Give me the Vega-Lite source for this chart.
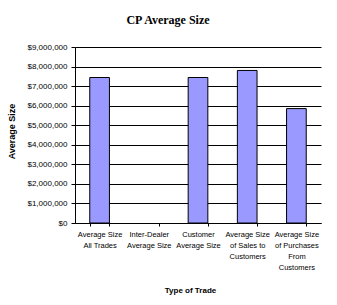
{
  "$schema": "https://vega.github.io/schema/vega-lite/v6.json",
  "width": 246,
  "height": 176,
  "autosize": "none",
  "padding": {"left": 75, "top": 47, "right": 16, "bottom": 82},
  "background": "white",
  "title": {
    "text": "CP Average Size",
    "font": "Liberation Serif",
    "fontSize": 12,
    "fontWeight": "bold",
    "color": "black",
    "anchor": "middle",
    "dx": -30,
    "offset": 16
  },
  "data": {
    "values": [
      {"trade": "Average Size|All Trades", "size": 7440000},
      {"trade": "Inter-Dealer|Average Size", "size": null},
      {"trade": "Customer|Average Size", "size": 7440000},
      {"trade": "Average Size|of Sales to|Customers", "size": 7800000},
      {"trade": "Average Size|of Purchases|From|Customers", "size": 5850000}
    ]
  },
  "mark": {"type": "bar", "color": "#9999FF", "stroke": "black", "strokeWidth": 1},
  "encoding": {
    "x": {
      "field": "trade",
      "type": "nominal",
      "scale": {
        "domain": [
          "Average Size|All Trades",
          "Inter-Dealer|Average Size",
          "Customer|Average Size",
          "Average Size|of Sales to|Customers",
          "Average Size|of Purchases|From|Customers"
        ],
        "paddingInner": 0.6,
        "paddingOuter": 0.3
      },
      "axis": {
        "title": "Type of Trade",
        "titleFont": "Liberation Sans",
        "titleFontSize": 8,
        "titleFontWeight": "bold",
        "titleColor": "black",
        "titlePadding": 16,
        "titleX": 115,
        "labelExpr": "split(datum.label, '|')",
        "labelAngle": 0,
        "labelFont": "Liberation Sans",
        "labelFontSize": 7.5,
        "labelColor": "black",
        "labelLineHeight": 11,
        "labelPadding": 4,
        "labelLimit": 0,
        "tickBand": "extent",
        "tickSize": 3,
        "tickColor": "black",
        "domainColor": "black",
        "grid": false
      }
    },
    "y": {
      "field": "size",
      "type": "quantitative",
      "scale": {"domain": [0, 9000000], "nice": false},
      "axis": {
        "title": "Average Size",
        "titleFont": "Liberation Sans",
        "titleFontSize": 9,
        "titleFontWeight": "bold",
        "titleColor": "black",
        "titlePadding": 10,
        "titleY": 84,
        "values": [0, 1000000, 2000000, 3000000, 4000000, 5000000, 6000000, 7000000, 8000000, 9000000],
        "format": "$,d",
        "labelFont": "Liberation Sans",
        "labelFontSize": 8,
        "labelColor": "black",
        "labelPadding": 4,
        "tickSize": 4,
        "tickColor": "black",
        "domainColor": "black",
        "grid": true,
        "gridColor": "black",
        "gridOpacity": 1,
        "gridWidth": 1
      }
    }
  },
  "config": {"view": {"stroke": null}}
}
